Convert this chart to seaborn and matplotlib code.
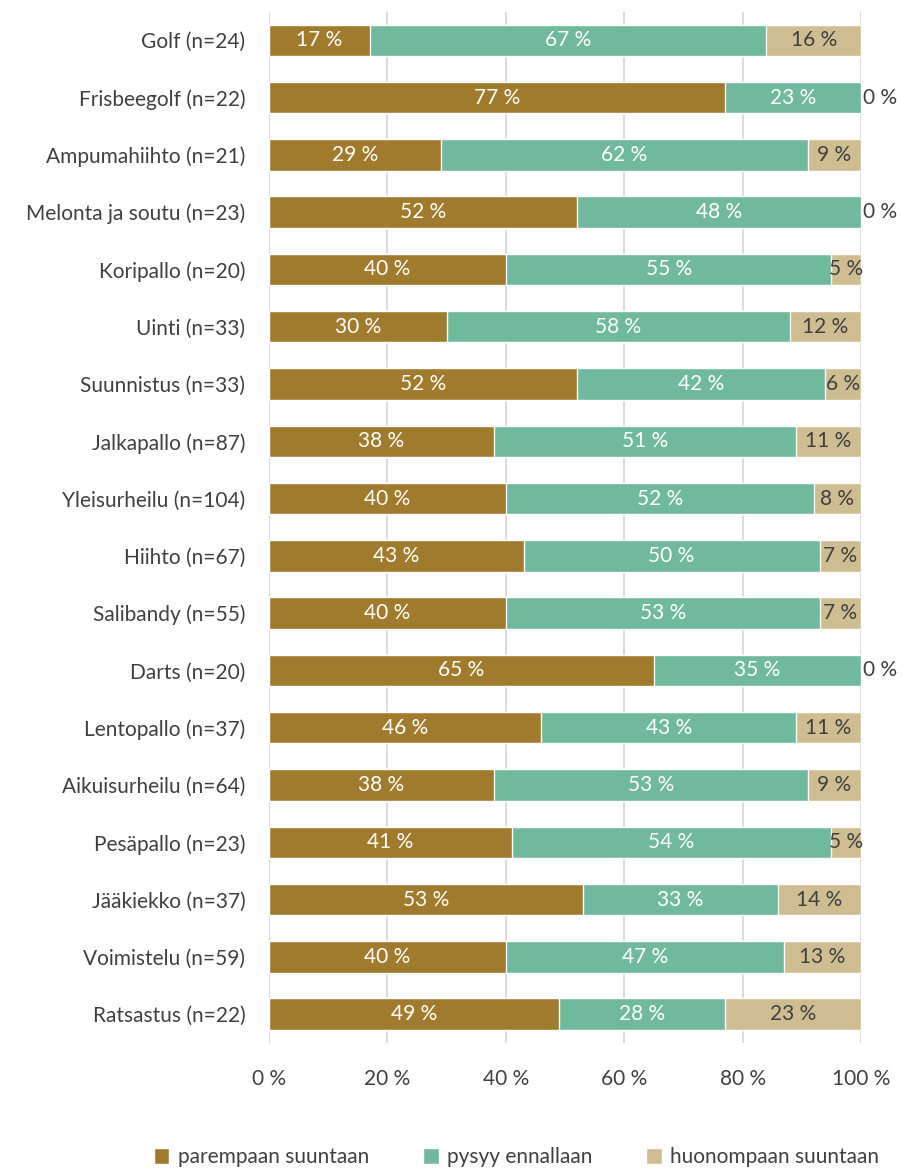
import numpy as np
import pandas as pd
import matplotlib
matplotlib.use("Agg")
import matplotlib.pyplot as plt
import seaborn as sns
from matplotlib.patches import Patch

# data (percent)
lajit = ["Golf (n=24)", "Frisbeegolf (n=22)", "Ampumahiihto (n=21)",
         "Melonta ja soutu (n=23)", "Koripallo (n=20)", "Uinti (n=33)",
         "Suunnistus (n=33)", "Jalkapallo (n=87)", "Yleisurheilu (n=104)",
         "Hiihto (n=67)", "Salibandy (n=55)", "Darts (n=20)",
         "Lentopallo (n=37)", "Aikuisurheilu (n=64)", "Pesäpallo (n=23)",
         "Jääkiekko (n=37)", "Voimistelu (n=59)", "Ratsastus (n=22)"]
parempaan = [17, 77, 29, 52, 40, 30, 52, 38, 40, 43, 40, 65, 46, 38, 41, 53, 40, 49]
ennallaan = [67, 23, 62, 48, 55, 58, 42, 51, 52, 50, 53, 35, 43, 53, 54, 33, 47, 28]
huonompaan = [16, 0, 9, 0, 5, 12, 6, 11, 8, 7, 7, 0, 11, 9, 5, 14, 13, 23]

series = ["parempaan suuntaan", "pysyy ennallaan", "huonompaan suuntaan"]
colors = ["#A07B2D", "#71B99E", "#CFBD92"]
text_col = "#404040"
fs = 15

sns.set_style("white")
plt.rcParams["font.family"] = ["Lato", "DejaVu Sans"]

df = pd.DataFrame({"laji": lajit, "p": parempaan, "e": ennallaan, "h": huonompaan})
df["c1"] = df["p"]
df["c2"] = df["p"] + df["e"]
df["c3"] = df["p"] + df["e"] + df["h"]

fig = plt.figure(figsize=(9.03, 11.69), dpi=100)
ax = fig.add_axes([0.298, 0.108, 0.6555, 0.882])

# cumulative layers, drawn back to front
for col, c in zip(["c3", "c2", "c1"], colors[::-1]):
    sns.barplot(data=df, x=col, y="laji", color=c, width=0.55,
                orient="h", ax=ax, saturation=1, zorder=3)

ax.set_xlim(0, 100)
ax.set_ylim(len(lajit) - 0.5, -0.5)
ax.set_xticks(range(0, 101, 20))
ax.set_xticklabels([f"{t} %" for t in range(0, 101, 20)])
ax.set_xlabel("")
ax.set_ylabel("")
ax.grid(axis="x", color="#D9D9D9", linewidth=1.3, zorder=0)
ax.set_axisbelow(True)
for s in ax.spines.values():
    s.set_visible(False)
ax.tick_params(axis="both", length=0, labelsize=fs, colors=text_col)
ax.tick_params(axis="x", pad=19)
ax.tick_params(axis="y", pad=17)

for i, row in df.iterrows():
    vals = [row["p"], row["e"], row["h"]]
    left = 0
    for j, v in enumerate(vals):
        if v == 0:
            ax.text(100.4, i, "0 %", ha="left", va="center",
                    fontsize=fs, color=text_col)
        else:
            col = "white" if j < 2 else text_col
            ax.text(left + v / 2, i, f"{v} %", ha="center", va="center",
                    fontsize=fs, color=col, zorder=5)
        left += v

handles = [Patch(facecolor=c, label=s) for c, s in zip(colors, series)]
fig.legend(handles=handles, loc="center", bbox_to_anchor=(0.572, 0.01),
           ncol=3, frameon=False, fontsize=fs, handlelength=0.75,
           handleheight=0.75, handletextpad=0.4, columnspacing=2.6,
           labelcolor=text_col)

fig.savefig("out.png", dpi=100)
